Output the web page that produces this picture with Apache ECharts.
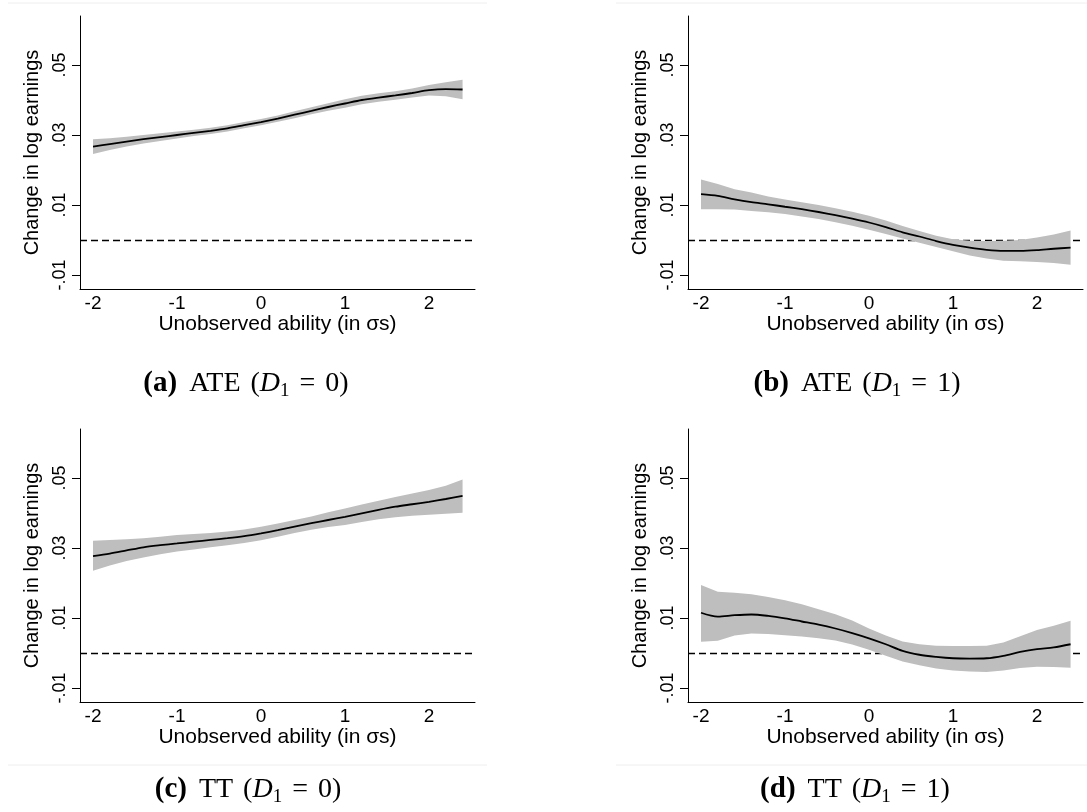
<!DOCTYPE html>
<html><head><meta charset="utf-8">
<script src="https://cdn.jsdelivr.net/npm/echarts@6/dist/echarts.min.js"></script>
<style>html,body{margin:0;padding:0;background:#fff}#c{width:1087px;height:812px}</style>
</head><body><div id="c"></div>
<script>
// Unobserved ability grid (in σs)
const xs = [-2.0,-1.8,-1.6,-1.4,-1.2,-1.0,-0.8,-0.6,-0.4,-0.2,0.0,0.2,0.4,0.6,0.8,1.0,1.2,1.4,1.6,1.8,2.0,2.2,2.4];
const xTicks = [-2,-1,0,1,2];
const yTicks = [-0.01,0.01,0.03,0.05];

// (a) ATE (D1 = 0)
const ateD0Mean  = [.0267,.0274,.0281,.0288,.0294,.0300,.0306,.0312,.0319,.0328,.0337,.0347,.0358,.0369,.0380,.0390,.0400,.0407,.0413,.0420,.0428,.0431,.0430];
const ateD0Upper = [.0288,.0291,.0295,.0300,.0305,.0310,.0315,.0321,.0328,.0337,.0346,.0356,.0368,.0379,.0391,.0402,.0412,.0419,.0425,.0433,.0443,.0451,.0458];
const ateD0Lower = [.0246,.0257,.0267,.0276,.0283,.0290,.0297,.0303,.0310,.0319,.0328,.0338,.0348,.0359,.0369,.0378,.0388,.0395,.0401,.0407,.0413,.0411,.0402];

// (b) ATE (D1 = 1)
const ateD1Mean  = [.0131,.0126,.0116,.0108,.0102,.0095,.0088,.0080,.0071,.0061,.0050,.0037,.0022,.0010,-.0003,-.0014,-.0022,-.0028,-.0031,-.0031,-.0029,-.0025,-.0022];
const ateD1Upper = [.0173,.0160,.0145,.0136,.0124,.0116,.0108,.0100,.0091,.0081,.0069,.0056,.0040,.0026,.0012,.0002,-.0002,-.0003,-.0002,.0000,.0007,.0016,.0027];
const ateD1Lower = [.0088,.0088,.0087,.0083,.0079,.0074,.0067,.0060,.0051,.0041,.0029,.0017,.0004,-.0008,-.0020,-.0032,-.0044,-.0053,-.0059,-.0061,-.0063,-.0066,-.0071];

// (c) TT (D1 = 0)
const ttD0Mean  = [.0277,.0284,.0293,.0302,.0308,.0313,.0318,.0323,.0328,.0334,.0342,.0351,.0361,.0371,.0380,.0389,.0399,.0409,.0418,.0425,.0432,.0440,.0449];
const ttD0Upper = [.0321,.0323,.0325,.0328,.0332,.0337,.0340,.0343,.0347,.0353,.0361,.0370,.0380,.0390,.0402,.0413,.0424,.0435,.0446,.0456,.0466,.0478,.0496];
const ttD0Lower = [.0235,.0250,.0263,.0273,.0282,.0290,.0296,.0302,.0308,.0314,.0322,.0332,.0343,.0352,.0360,.0366,.0374,.0382,.0388,.0392,.0395,.0398,.0401];

// (d) TT (D1 = 1)
const ttD1Mean  = [.0115,.0104,.0108,.0110,.0106,.0099,.0090,.0081,.0070,.0057,.0042,.0025,.0006,-.0005,-.0011,-.0015,-.0016,-.0015,-.0008,.0003,.0011,.0016,.0025];
const ttD1Upper = [.0194,.0175,.0172,.0168,.0160,.0151,.0139,.0125,.0111,.0093,.0070,.0050,.0033,.0025,.0021,.0020,.0020,.0021,.0030,.0048,.0066,.0078,.0092];
const ttD1Lower = [.0032,.0035,.0050,.0056,.0054,.0051,.0047,.0042,.0036,.0024,.0009,-.0008,-.0024,-.0035,-.0044,-.0050,-.0053,-.0054,-.0050,-.0043,-.0039,-.0040,-.0042];

const panels = [
  {mean: ateD0Mean, up: ateD0Upper, lo: ateD0Lower, left: 80,  top: 16},
  {mean: ateD1Mean, up: ateD1Upper, lo: ateD1Lower, left: 688, top: 16},
  {mean: ttD0Mean,  up: ttD0Upper,  lo: ttD0Lower,  left: 80,  top: 429},
  {mean: ttD1Mean,  up: ttD1Upper,  lo: ttD1Lower,  left: 688, top: 429}
];
const captions = [
  {label: '(a)', est: 'ATE', d: '0', x: 246, y: 384},
  {label: '(b)', est: 'ATE', d: '1', x: 857, y: 384},
  {label: '(c)', est: 'TT',  d: '0', x: 248, y: 790},
  {label: '(d)', est: 'TT',  d: '1', x: 855, y: 790}
];

const SANS = "'Liberation Sans', Arial, sans-serif";
const SERIF = "'Liberation Serif', 'Times New Roman', serif";

const grid = [], xAxis = [], yAxis = [], series = [];
panels.forEach((p, i) => {
  grid.push({left: p.left, top: p.top, width: 395, height: 273, containLabel: false});
  xAxis.push({
    type: 'value', gridIndex: i, min: -2.155, max: 2.548,
    name: 'Unobserved ability (in σs)', nameLocation: 'middle', nameGap: 24,
    nameTextStyle: {fontFamily: SANS, fontSize: 21, color: '#000'},
    axisLine: {show: true, onZero: false, lineStyle: {color: '#000', width: 1}},
    axisTick: {show: false},
    splitLine: {show: false},
    axisLabel: {customValues: xTicks, fontFamily: SANS, fontSize: 19, color: '#000', margin: 5,
      formatter: v => String(v)}
  });
  yAxis.push({
    type: 'value', gridIndex: i, min: -0.014, max: 0.064,
    name: 'Change in log earnings', nameLocation: 'middle', nameRotate: 90, nameGap: 38,
    nameTextStyle: {fontFamily: SANS, fontSize: 20, color: '#000'},
    axisLine: {show: true, onZero: false, lineStyle: {color: '#000', width: 1}},
    axisTick: {show: true, customValues: yTicks, length: 8, lineStyle: {color: '#000', width: 1}},
    splitLine: {show: false},
    axisLabel: {customValues: yTicks, rotate: 90, fontFamily: SANS, fontSize: 18, color: '#000', margin: 11,
      formatter: v => (v < 0 ? '-' : '') + Math.abs(v).toFixed(2).replace(/^0/, '')}
  });
  // confidence band: polygon through upper points then lower points, placed by the axes
  const bandData = xs.map((x, k) => [x, p.lo[k], p.up[k]]);
  series.push({
    type: 'custom', xAxisIndex: i, yAxisIndex: i, data: bandData, silent: true, z: 3,
    encode: {x: 0, y: [1, 2]},
    renderItem: (params, api) => {
      if (params.dataIndex !== 0) return null;
      const pts = [];
      for (let k = 0; k < xs.length; k++) pts.push(api.coord([xs[k], p.up[k]]));
      for (let k = xs.length - 1; k >= 0; k--) pts.push(api.coord([xs[k], p.lo[k]]));
      return {type: 'polygon', shape: {points: pts}, style: {fill: '#bebebe', stroke: null}};
    },
    markLine: {silent: true, symbol: ['none', 'none'], z: 1, label: {show: false},
      lineStyle: {color: '#000', type: [7, 4], width: 1.3}, data: [{yAxis: 0}]}
  });
  const mean = xs.map((x, k) => [x, p.mean[k]]);
  series.push({
    type: 'line', xAxisIndex: i, yAxisIndex: i, data: mean, smooth: 0.3, symbol: 'none', silent: true,
    lineStyle: {color: '#000', width: 1.8}, z: 4
  });
});

const graphic = [];
captions.forEach(c => {
  graphic.push({
    type: 'text', x: c.x, y: c.y, silent: true,
    style: {
      text: '{b|' + c.label + '}{g1| }' + c.est + '{g2| }({i|D}{s|1}{g3| }={g3| }' + c.d + ')',
      fontFamily: SERIF, fontSize: 28, fill: '#000', align: 'center', verticalAlign: 'middle', lineHeight: 34,
      rich: {
        b: {fontFamily: SERIF, fontSize: 29, fontWeight: 'bold', lineHeight: 34},
        i: {fontFamily: SERIF, fontSize: 28, fontStyle: 'italic', lineHeight: 34},
        s: {fontFamily: SERIF, fontSize: 19, verticalAlign: 'bottom', lineHeight: 19},
        g1: {width: 12, lineHeight: 34},
        g2: {width: 10, lineHeight: 34},
        g3: {width: 10, lineHeight: 34}
      }
    }
  });
});
[[8, 487, 3], [616, 1087, 3], [8, 487, 765], [616, 1087, 765]].forEach(l => {
  graphic.push({type: 'line', silent: true, shape: {x1: l[0], y1: l[2], x2: l[1], y2: l[2]},
    style: {stroke: '#eeeeee', lineWidth: 1}});
});

const chart = echarts.init(document.getElementById('c'), null, {renderer: 'canvas'});
chart.setOption({animation: false, backgroundColor: '#fff', grid, xAxis, yAxis, series, graphic});
</script></body></html>
